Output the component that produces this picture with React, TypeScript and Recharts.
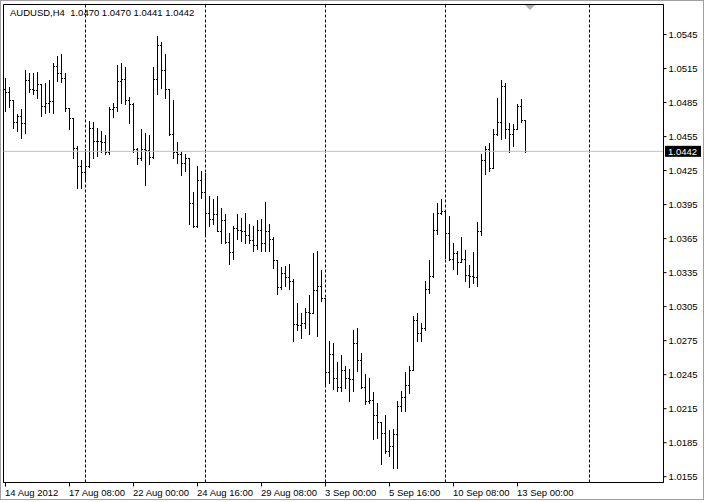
import React from 'react';
import { ComposedChart, Bar, XAxis, YAxis, ReferenceLine, ReferenceArea } from 'recharts';

// AUDUSD H4, 14 Aug 2012 16:00 .. 13 Sep 2012 08:00 (one entry per 4h bar)
const HEADER = 'AUDUSD,H4  1.0470 1.0470 1.0441 1.0442';

const HIGH = [
  1.0507, 1.0499, 1.0487, 1.0475, 1.0479, 1.0514, 1.0511, 1.0511, 1.0512, 1.0501,
  1.0502, 1.0505, 1.0520, 1.0526, 1.0528, 1.0511, 1.0480, 1.0471, 1.0447, 1.0434,
  1.0444, 1.0469, 1.0468, 1.0463, 1.0460, 1.0456, 1.0481, 1.0485, 1.0518, 1.0520,
  1.0516, 1.0490, 1.0485, 1.0445, 1.0462, 1.0458, 1.0456, 1.0516, 1.0544, 1.0538,
  1.0528, 1.0497, 1.0487, 1.0450, 1.0441, 1.0440, 1.0436, 1.0406, 1.0429, 1.0425,
  1.0423, 1.0403, 1.0400, 1.0403, 1.0392, 1.0387, 1.0370, 1.0376, 1.0387, 1.0383,
  1.0388, 1.0378, 1.0376, 1.0381, 1.0382, 1.0397, 1.0378, 1.0366, 1.0346, 1.0340,
  1.0341, 1.0343, 1.0329, 1.0308, 1.0299, 1.0304, 1.0315, 1.0352, 1.0354, 1.0337,
  1.0313, 1.0275, 1.0273, 1.0256, 1.0262, 1.0253, 1.0250, 1.0284, 1.0286, 1.0264,
  1.0246, 1.0242, 1.0230, 1.0220, 1.0203, 1.0209, 1.0196, 1.0197, 1.0222, 1.0231,
  1.0247, 1.0253, 1.0297, 1.0299, 1.0291, 1.0328, 1.0346, 1.0388, 1.0396, 1.0400,
  1.0389, 1.0385, 1.0361, 1.0354, 1.0366, 1.0355, 1.0342, 1.0353, 1.0380, 1.0440,
  1.0447, 1.0449, 1.0462, 1.0489, 1.0505, 1.0502, 1.0467, 1.0466, 1.0484, 1.0488,
  1.0470,
];

const LOW = [
  1.0478, 1.0481, 1.0463, 1.0460, 1.0454, 1.0458, 1.0494, 1.0493, 1.0489, 1.0473,
  1.0476, 1.0477, 1.0476, 1.0504, 1.0503, 1.0478, 1.0462, 1.0436, 1.0410, 1.0410,
  1.0416, 1.0428, 1.0436, 1.0438, 1.0441, 1.0440, 1.0440, 1.0472, 1.0478, 1.0485,
  1.0484, 1.0467, 1.0441, 1.0431, 1.0434, 1.0412, 1.0431, 1.0436, 1.0493, 1.0498,
  1.0489, 1.0456, 1.0436, 1.0432, 1.0421, 1.0425, 1.0378, 1.0375, 1.0375, 1.0401,
  1.0368, 1.0376, 1.0378, 1.0372, 1.0361, 1.0361, 1.0343, 1.0347, 1.0365, 1.0363,
  1.0361, 1.0361, 1.0354, 1.0356, 1.0354, 1.0354, 1.0354, 1.0339, 1.0316, 1.0321,
  1.0323, 1.0321, 1.0275, 1.0284, 1.0277, 1.0286, 1.0281, 1.0299, 1.0279, 1.0310,
  1.0235, 1.0238, 1.0232, 1.0231, 1.0231, 1.0233, 1.0222, 1.0231, 1.0248, 1.0233,
  1.0219, 1.0220, 1.0188, 1.0189, 1.0166, 1.0176, 1.0173, 1.0163, 1.0163, 1.0213,
  1.0213, 1.0229, 1.0249, 1.0275, 1.0275, 1.0284, 1.0317, 1.0331, 1.0369, 1.0387,
  1.0348, 1.0346, 1.0338, 1.0334, 1.0344, 1.0328, 1.0322, 1.0326, 1.0323, 1.0368,
  1.0422, 1.0425, 1.0427, 1.0456, 1.0453, 1.0454, 1.0441, 1.0447, 1.0462, 1.0468,
  1.0441,
];

const OPEN = [
  1.0497, 1.0494, 1.0487, 1.0468, 1.0473, 1.0467, 1.0505, 1.0497, 1.0496, 1.0501,
  1.0482, 1.0485, 1.0486, 1.0517, 1.0511, 1.0507, 1.0480, 1.0471, 1.0445, 1.0429,
  1.0424, 1.0429, 1.0463, 1.0451, 1.0451, 1.0450, 1.0441, 1.0479, 1.0481, 1.0504,
  1.0506, 1.0487, 1.0484, 1.0444, 1.0436, 1.0444, 1.0443, 1.0437, 1.0506, 1.0536,
  1.0514, 1.0497, 1.0457, 1.0441, 1.0440, 1.0432, 1.0436, 1.0396, 1.0376, 1.0417,
  1.0406, 1.0388, 1.0382, 1.0387, 1.0372, 1.0381, 1.0362, 1.0353, 1.0374, 1.0373,
  1.0372, 1.0368, 1.0364, 1.0359, 1.0373, 1.0361, 1.0372, 1.0365, 1.0346, 1.0322,
  1.0335, 1.0331, 1.0328, 1.0290, 1.0289, 1.0291, 1.0300, 1.0299, 1.0320, 1.0323,
  1.0313, 1.0247, 1.0263, 1.0242, 1.0234, 1.0249, 1.0242, 1.0241, 1.0273, 1.0258,
  1.0234, 1.0222, 1.0223, 1.0209, 1.0203, 1.0194, 1.0178, 1.0182, 1.0193, 1.0217,
  1.0225, 1.0236, 1.0249, 1.0293, 1.0282, 1.0286, 1.0321, 1.0332, 1.0373, 1.0388,
  1.0389, 1.0370, 1.0347, 1.0352, 1.0344, 1.0347, 1.0333, 1.0332, 1.0331, 1.0372,
  1.0434, 1.0444, 1.0427, 1.0457, 1.0468, 1.0500, 1.0462, 1.0457, 1.0462, 1.0482,
  1.0470,
];

const CLOSE = [
  1.0494, 1.0487, 1.0468, 1.0473, 1.0467, 1.0505, 1.0497, 1.0496, 1.0501, 1.0482,
  1.0485, 1.0486, 1.0517, 1.0511, 1.0507, 1.0480, 1.0471, 1.0445, 1.0429, 1.0424,
  1.0429, 1.0463, 1.0451, 1.0451, 1.0450, 1.0441, 1.0479, 1.0481, 1.0504, 1.0506,
  1.0487, 1.0484, 1.0444, 1.0436, 1.0444, 1.0443, 1.0437, 1.0506, 1.0536, 1.0514,
  1.0497, 1.0457, 1.0441, 1.0440, 1.0432, 1.0436, 1.0396, 1.0376, 1.0417, 1.0406,
  1.0388, 1.0382, 1.0387, 1.0372, 1.0381, 1.0362, 1.0353, 1.0374, 1.0373, 1.0372,
  1.0368, 1.0364, 1.0359, 1.0373, 1.0361, 1.0372, 1.0365, 1.0346, 1.0322, 1.0335,
  1.0331, 1.0328, 1.0290, 1.0289, 1.0291, 1.0300, 1.0299, 1.0320, 1.0323, 1.0313,
  1.0247, 1.0263, 1.0242, 1.0234, 1.0249, 1.0242, 1.0241, 1.0273, 1.0258, 1.0234,
  1.0222, 1.0223, 1.0209, 1.0203, 1.0194, 1.0178, 1.0182, 1.0193, 1.0217, 1.0225,
  1.0236, 1.0249, 1.0293, 1.0282, 1.0286, 1.0321, 1.0332, 1.0373, 1.0388, 1.0389,
  1.0370, 1.0347, 1.0352, 1.0344, 1.0347, 1.0333, 1.0332, 1.0331, 1.0372, 1.0434,
  1.0444, 1.0427, 1.0457, 1.0468, 1.0500, 1.0462, 1.0457, 1.0462, 1.0482, 1.0470,
  1.0442,
];

// bar slots on the time axis (includes the empty shift area on the right)
const SLOTS = 165;
const X_TICKS = [0, 16, 32, 48, 64, 80, 96, 112, 128];
const X_LABELS = [
  '14 Aug 2012', '17 Aug 08:00', '22 Aug 00:00', '24 Aug 16:00', '29 Aug 08:00',
  '3 Sep 00:00', '5 Sep 16:00', '10 Sep 08:00', '13 Sep 00:00',
];
const WEEK_STARTS = [20, 50, 80, 110, 146];
const Y_TICKS = [
  1.0155, 1.0185, 1.0215, 1.0245, 1.0275, 1.0305, 1.0335,
  1.0365, 1.0395, 1.0425, 1.0455, 1.0485, 1.0515, 1.0545,
];
const Y_MIN = 1.01499;
const Y_MAX = 1.05715;
const LAST_PRICE = 1.0442;

const FONT = "'Liberation Sans', Arial, sans-serif";
const FONT_SIZE = 9.5;

const data = Array.from({ length: SLOTS }, (_, i) =>
  i < HIGH.length
    ? { i, range: [LOW[i], HIGH[i]], high: HIGH[i], low: LOW[i], open: OPEN[i], close: CLOSE[i] }
    : { i }
);

function OhlcBar(props: any) {
  const { x, y, width, height, payload } = props;
  if (!payload || payload.high == null || y == null) return null;
  const top = Math.min(y, y + height);
  const span = Math.abs(height);
  const col = Math.floor(x + width / 2);
  const py = (v: number) =>
    Math.round(top + ((payload.high - v) / (payload.high - payload.low || 1)) * span);
  const t = Math.round(top);
  const b = Math.round(top + span);
  return (
    <g shapeRendering="crispEdges" fill="#000">
      <rect x={col} y={t} width={1} height={Math.max(1, b - t + 1)} />
      <rect x={col - 1} y={py(payload.open)} width={1} height={1} />
      <rect x={col + 1} y={py(payload.close)} width={1} height={1} />
    </g>
  );
}

function TimeTick(props: any) {
  const { x, y, payload } = props;
  const k = X_TICKS.indexOf(payload.value);
  return (
    <text x={x - 0.5} y={y + 7.5} fontSize={FONT_SIZE} fontFamily={FONT} fill="#000" textAnchor="start">
      {k >= 0 ? X_LABELS[k] : ''}
    </text>
  );
}

function PriceTick(props: any) {
  const { x, y, payload } = props;
  return (
    <text x={x} y={y + 3.5} fontSize={FONT_SIZE} fontFamily={FONT} fill="#000" textAnchor="start">
      {Number(payload.value).toFixed(4)}
    </text>
  );
}

function LastPriceTag(props: any) {
  const vb = props.viewBox || {};
  const left = vb.x + vb.width + 1.5;
  return (
    <g>
      <rect x={left} y={vb.y - 5.5} width={36} height={11} fill="#000" />
      <text x={left + 3} y={vb.y + 3.5} fontSize={FONT_SIZE} fontFamily={FONT} fill="#fff">
        {LAST_PRICE.toFixed(4)}
      </text>
    </g>
  );
}

export default function App() {
  return (
    <div style={{ position: 'fixed', left: 0, top: 0, width: 705, height: 502, background: '#fff' }}>
      <ComposedChart
        width={705}
        height={502}
        data={data}
        margin={{ top: 4.5, right: 0, bottom: 0, left: 3.5 }}
      >
        <XAxis
          dataKey="i"
          type="category"
          ticks={X_TICKS}
          interval={0}
          height={19.5}
          tickSize={4}
          axisLine={{ stroke: '#000' }}
          tickLine={{ stroke: '#000' }}
          tick={<TimeTick />}
        />
        <YAxis
          orientation="right"
          type="number"
          domain={[Y_MIN, Y_MAX]}
          allowDataOverflow
          ticks={Y_TICKS}
          interval={0}
          width={41.5}
          tickSize={3}
          axisLine={{ stroke: '#000' }}
          tickLine={{ stroke: '#000' }}
          tick={<PriceTick />}
        />
        {WEEK_STARTS.map((w) => (
          <ReferenceLine key={w} x={w} stroke="#000" strokeDasharray="3 2" />
        ))}
        <ReferenceLine y={LAST_PRICE} stroke="#c0c0c0" label={<LastPriceTag />} />
        <Bar dataKey="range" shape={<OhlcBar />} isAnimationActive={false} />
        <ReferenceArea y1={Y_MIN} y2={Y_MAX} fill="none" fillOpacity={0} stroke="#000" strokeOpacity={1} />
      </ComposedChart>
      <div
        style={{
          position: 'absolute', left: 10, top: 7, fontFamily: FONT, fontSize: FONT_SIZE,
          lineHeight: '12px', color: '#000', whiteSpace: 'pre',
        }}
      >
        {HEADER}
      </div>
      <svg style={{ position: 'absolute', left: 525, top: 5 }} width={11} height={6}>
        <polygon points="0,0 10,0 5,5" fill="#b0b0b0" />
      </svg>
      <div
        style={{
          position: 'absolute', left: 0, top: 0, width: 704, height: 500,
          border: '1px solid #a0a0a0', boxSizing: 'border-box', pointerEvents: 'none',
        }}
      />
    </div>
  );
}
